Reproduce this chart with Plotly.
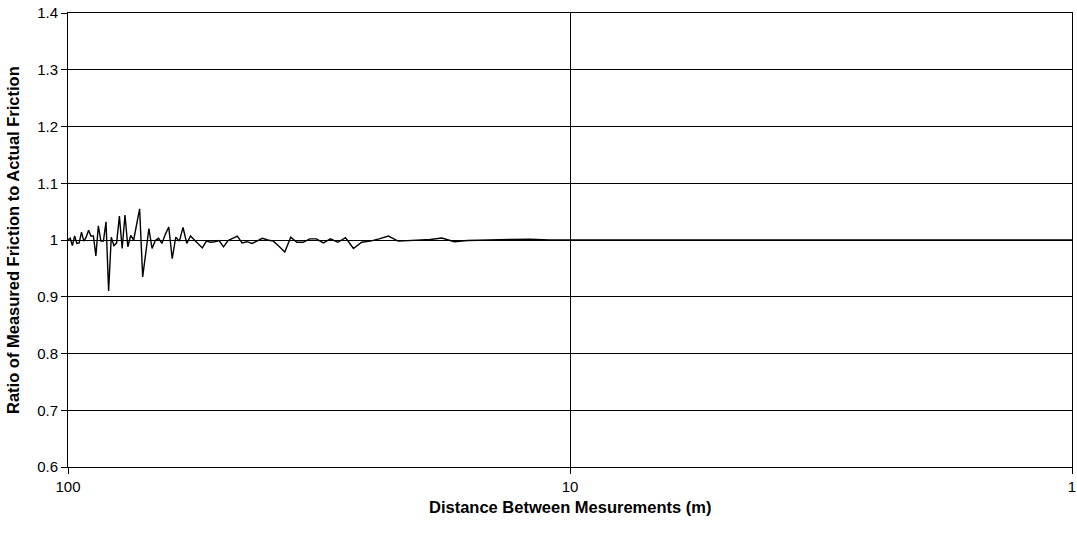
import plotly.graph_objects as go

distances = list(range(100, 0, -1))
ratios = [
    1.0, 1.003, 0.99, 1.007, 0.994, 0.995, 1.014, 0.998, 1.005, 1.017,   # 100-91
    1.007, 1.007, 0.972, 1.025, 0.998, 0.998, 1.032, 0.91, 1.005, 0.99,  # 90-81
    0.995, 1.042, 0.985, 1.044, 0.988, 1.008, 1.0, 1.03, 1.055, 0.935,   # 80-71
    0.98, 1.02, 0.985, 0.999, 1.003, 0.994, 1.01, 1.023, 0.967, 1.005,   # 70-61
    0.998, 1.022, 0.994, 1.007, 1.0, 0.993, 0.986, 0.998, 0.996, 0.997,  # 60-51
    0.999, 0.988, 0.999, 1.003, 1.007, 0.995, 0.997, 0.994, 0.999, 1.003,  # 50-41
    1.0, 0.998, 0.989, 0.979, 1.005, 0.996, 0.996, 1.002, 1.002, 0.995,  # 40-31
    1.002, 0.996, 1.004, 0.985, 0.996, 0.998, 1.002, 1.007, 0.998, 0.999,  # 30-21
    1.0, 1.001, 1.0035, 0.997, 0.999, 1.0, 1.0, 1.001, 1.0015, 1.0,      # 20-11
    1.0, 1.0005, 1.0, 1.0, 1.0, 1.0, 1.0005, 1.0005, 1.0, 1.0,          # 10-1
]

x_ticks = [100, 10, 1]
x_tick_text = ["100", "10", "1"]
y_ticks = [0.6, 0.7, 0.8, 0.9, 1.0, 1.1, 1.2, 1.3, 1.4]
y_tick_text = ["0.6", "0.7", "0.8", "0.9", "1", "1.1", "1.2", "1.3", "1.4"]

x_title = "Distance Between Mesurements (m)"
y_title = "Ratio of Measured Friction to Actual Friction"

FAMILY = "Liberation Sans, Arial, sans-serif"

fig = go.Figure()
fig.add_trace(go.Scatter(
    x=distances, y=ratios, mode="lines",
    line=dict(color="black", width=1.4),
    showlegend=False,
))

axis_common = dict(
    ticks="outside", ticklen=6, tickcolor="black",
    showgrid=True, gridcolor="black", gridwidth=1,
    showline=True, linecolor="black", linewidth=1, mirror=True,
    zeroline=False, automargin=False,
    tickfont=dict(family=FAMILY, size=15, color="black"),
)

fig.update_layout(
    width=1077, height=535,
    margin=dict(l=68, r=5, t=13, b=68),
    paper_bgcolor="white", plot_bgcolor="white",
    font=dict(family=FAMILY, size=15, color="black"),
    xaxis=dict(type="log", range=[2, 0],
               tickvals=x_ticks, ticktext=x_tick_text, **axis_common),
    yaxis=dict(range=[0.6, 1.4],
               tickvals=y_ticks, ticktext=y_tick_text, **axis_common),
    annotations=[
        dict(text="<b>" + x_title + "</b>", xref="paper", yref="paper",
             x=0.5, y=-0.088, xanchor="center", yanchor="middle",
             showarrow=False, font=dict(family=FAMILY, size=16.5, color="black")),
        dict(text="<b>" + y_title + "</b>", xref="paper", yref="paper",
             x=-0.0548, y=0.5, xanchor="center", yanchor="middle",
             textangle=-90, showarrow=False,
             font=dict(family=FAMILY, size=16.5, color="black")),
    ],
)

fig.write_html(
    "out.html",
    config={"displayModeBar": False},
    post_script="document.body.style.margin='0';document.body.style.overflow='hidden';",
)
